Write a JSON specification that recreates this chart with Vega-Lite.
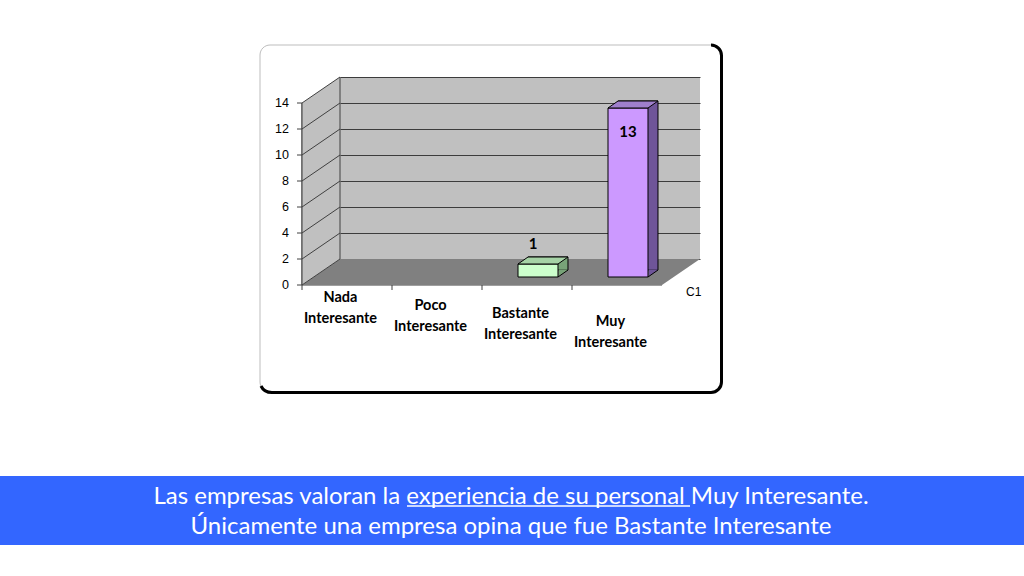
{
  "$schema": "https://vega.github.io/schema/vega-lite/v6.json",
  "width": 360,
  "height": 182,
  "autosize": "none",
  "padding": {"left": 340, "top": 77, "right": 324, "bottom": 317},
  "background": "white",
  "datasets": {
    "respuestas": [
      {"categoria": "Nada Interesante", "valor": 0},
      {"categoria": "Poco Interesante", "valor": 0},
      {"categoria": "Bastante Interesante", "valor": 1},
      {"categoria": "Muy Interesante", "valor": 13}
    ],
    "marco": [{}]
  },
  "data": {"name": "respuestas"},
  "resolve": {"axis": {"y": "independent"}},
  "layer": [
    {
      "data": {"name": "marco"},
      "mark": {"type": "rect", "filled": false, "stroke": "#bdbdbd", "strokeWidth": 1, "cornerRadius": 10},
      "encoding": {"x": {"value": -80}, "x2": {"value": 381}, "y": {"value": -32}, "y2": {"value": 315}}
    },
    {
      "data": {"name": "marco"},
      "mark": {"type": "point", "shape": "M371,-32 A10.5,10.5 0 0 1 381.5,-21.5 L381.5,305 A10.5,10.5 0 0 1 371,315.5 L-68,315.5 Q-76,315.5 -79,309", "size": 4, "filled": false, "stroke": "#000", "strokeWidth": 3, "opacity": 1},
      "encoding": {"x": {"value": 0}, "y": {"value": 0}}
    },
    {
      "data": {"name": "marco"},
      "mark": {"type": "rect", "color": "#3366ff"},
      "encoding": {"x": {"value": -340}, "x2": {"value": 684}, "y": {"value": 399}, "y2": {"value": 468}}
    },
    {
      "data": {"name": "marco"},
      "mark": {"type": "text", "text": "Las empresas valoran la experiencia de su personal Muy Interesante.", "font": "Lato", "fontSize": 24, "color": "white", "align": "center", "baseline": "middle"},
      "encoding": {"x": {"value": 171}, "y": {"value": 420}}
    },
    {
      "data": {"name": "marco"},
      "mark": {"type": "text", "text": "Únicamente una empresa opina que fue Bastante Interesante", "font": "Lato", "fontSize": 24, "color": "white", "align": "center", "baseline": "middle"},
      "encoding": {"x": {"value": 171}, "y": {"value": 450}}
    },
    {
      "data": {"name": "marco"},
      "mark": {"type": "rule", "color": "white", "strokeWidth": 1.5},
      "encoding": {"x": {"value": 67}, "x2": {"value": 350}, "y": {"value": 429}}
    },
    {
      "data": {"name": "marco"},
      "mark": {"type": "point", "shape": "M0,182 L360,182 L322,208 L-38,208 Z", "size": 4, "filled": true, "fill": "#808080", "strokeWidth": 0, "opacity": 1},
      "encoding": {"x": {"value": 0}, "y": {"value": 0}}
    },
    {
      "data": {"name": "marco"},
      "mark": {"type": "point", "shape": "M0,0 L0,182 L-38,208 L-38,26 Z M0,26 L-38,52 M0,52 L-38,78 M0,78 L-38,104 M0,104 L-38,130 M0,130 L-38,156 M0,156 L-38,182", "size": 4, "filled": true, "fill": "#c0c0c0", "stroke": "#404040", "strokeWidth": 1, "opacity": 1},
      "encoding": {"x": {"value": 0}, "y": {"value": 0}}
    },
    {
      "transform": [{"filter": "datum.valor > 0"}],
      "mark": {"type": "bar", "width": {"band": 1}, "xOffset": -17, "x2Offset": -17, "yOffset": 11, "y2Offset": 11, "stroke": "#000", "strokeWidth": 1},
      "encoding": {
        "x": {
          "field": "categoria", "type": "nominal", "title": null,
          "scale": {"domain": ["Nada Interesante", "Poco Interesante", "Bastante Interesante", "Muy Interesante"], "paddingInner": 0.5556, "paddingOuter": 0.2778},
          "axis": {
            "orient": "bottom", "translate": -38, "offset": 64, "bandPosition": -0.625,
            "domainColor": "#404040", "tickColor": "#404040", "tickSize": 5,
            "labelExpr": "split(datum.label, ' ')", "labelOffset": -6, "labelLineHeight": 21,
            "labelPadding": {"condition": [
              {"test": "datum.value == 'Poco Interesante'", "value": 9},
              {"test": "datum.value == 'Bastante Interesante'", "value": 17},
              {"test": "datum.value == 'Muy Interesante'", "value": 25}
            ], "value": 1},
            "labelFont": "Lato", "labelFontWeight": "bold", "labelFontSize": 14.5, "labelColor": "#000",
            "labelAngle": 0, "labelAlign": "center", "labelBaseline": "top", "labelOverlap": false, "labelBound": false
          }
        },
        "y": {
          "field": "valor", "type": "quantitative", "title": null,
          "scale": {"domain": [0, 14], "nice": false},
          "axis": {"orient": "left", "values": [0, 2, 4, 6, 8, 10, 12, 14], "grid": true, "gridColor": "#3c3c3c", "gridWidth": 1, "labels": false, "ticks": false, "domain": false}
        },
        "fill": {"condition": {"test": "datum.categoria == 'Muy Interesante'", "value": "#6f5599"}, "value": "#78a378"}
      }
    },
    {
      "transform": [{"filter": "datum.valor > 0"}],
      "mark": {"type": "point", "shape": "M20.5,-7.6 L29.5,-7.6 L29.5,-6.6 L20.5,-0.3 Z", "size": 4, "filled": true, "strokeWidth": 0, "opacity": 1, "xOffset": -27, "yOffset": 18},
      "encoding": {
        "x": {"field": "categoria", "type": "nominal", "title": null},
        "y": {"datum": 0, "type": "quantitative", "axis": null},
        "fill": {"condition": {"test": "datum.categoria == 'Muy Interesante'", "value": "#6f5599"}, "value": "#78a378"}
      }
    },
    {
      "transform": [{"filter": "datum.valor > 0"}],
      "mark": {"type": "bar", "width": {"band": 1}, "xOffset": -27, "x2Offset": -27, "yOffset": 18, "y2Offset": 18, "stroke": "#000", "strokeWidth": 1},
      "encoding": {
        "x": {"field": "categoria", "type": "nominal", "title": null},
        "y": {
          "field": "valor", "type": "quantitative", "title": null,
          "axis": {"orient": "left", "translate": 26, "offset": 64, "values": [0, 2, 4, 6, 8, 10, 12, 14], "grid": false,
            "domainColor": "#404040", "tickColor": "#404040", "tickSize": 5, "labelPadding": 8,
            "labelFont": "Liberation Sans", "labelFontSize": 12.5, "labelColor": "#000"}
        },
        "fill": {"condition": {"test": "datum.categoria == 'Muy Interesante'", "value": "#cc99ff"}, "value": "#ccffcc"}
      }
    },
    {
      "transform": [{"filter": "datum.valor > 0"}],
      "mark": {"type": "point", "shape": "M-20,0 L20,0 L30,-7 L-10,-7 Z", "size": 4, "filled": true, "stroke": "#000", "strokeWidth": 1, "opacity": 1, "xOffset": -27, "yOffset": 18},
      "encoding": {
        "x": {"field": "categoria", "type": "nominal", "title": null},
        "y": {"field": "valor", "type": "quantitative", "axis": null},
        "fill": {"condition": {"test": "datum.categoria == 'Muy Interesante'", "value": "#9f7fcc"}, "value": "#a6d3a6"}
      }
    },
    {
      "transform": [{"filter": "datum.valor > 0"}],
      "mark": {"type": "point", "shape": "M20,0 L30,-7", "size": 4, "filled": false, "stroke": "#000", "strokeWidth": 1, "opacity": 1, "xOffset": -27, "yOffset": 18},
      "encoding": {
        "x": {"field": "categoria", "type": "nominal", "title": null},
        "y": {"datum": 0, "type": "quantitative", "axis": null}
      }
    },
    {
      "transform": [{"filter": "datum.valor > 0 && datum.valor < 10"}],
      "mark": {"type": "text", "font": "Lato", "fontWeight": "bold", "fontSize": 15, "color": "#000", "baseline": "middle", "xOffset": -32, "yOffset": -2},
      "encoding": {
        "x": {"field": "categoria", "type": "nominal", "title": null},
        "y": {"field": "valor", "type": "quantitative", "axis": null},
        "text": {"field": "valor", "type": "quantitative"}
      }
    },
    {
      "transform": [{"filter": "datum.valor >= 10"}],
      "mark": {"type": "text", "font": "Lato", "fontWeight": "bold", "fontSize": 15, "color": "#000", "baseline": "middle", "xOffset": -27, "yOffset": 42},
      "encoding": {
        "x": {"field": "categoria", "type": "nominal", "title": null},
        "y": {"field": "valor", "type": "quantitative", "axis": null},
        "text": {"field": "valor", "type": "quantitative"}
      }
    },
    {
      "data": {"name": "marco"},
      "mark": {"type": "text", "text": "C1", "font": "Liberation Sans", "fontSize": 12, "color": "#000", "align": "left", "baseline": "middle"},
      "encoding": {"x": {"value": 346}, "y": {"value": 215}}
    }
  ],
  "config": {"view": {"stroke": null, "fill": "#c0c0c0"}}
}
